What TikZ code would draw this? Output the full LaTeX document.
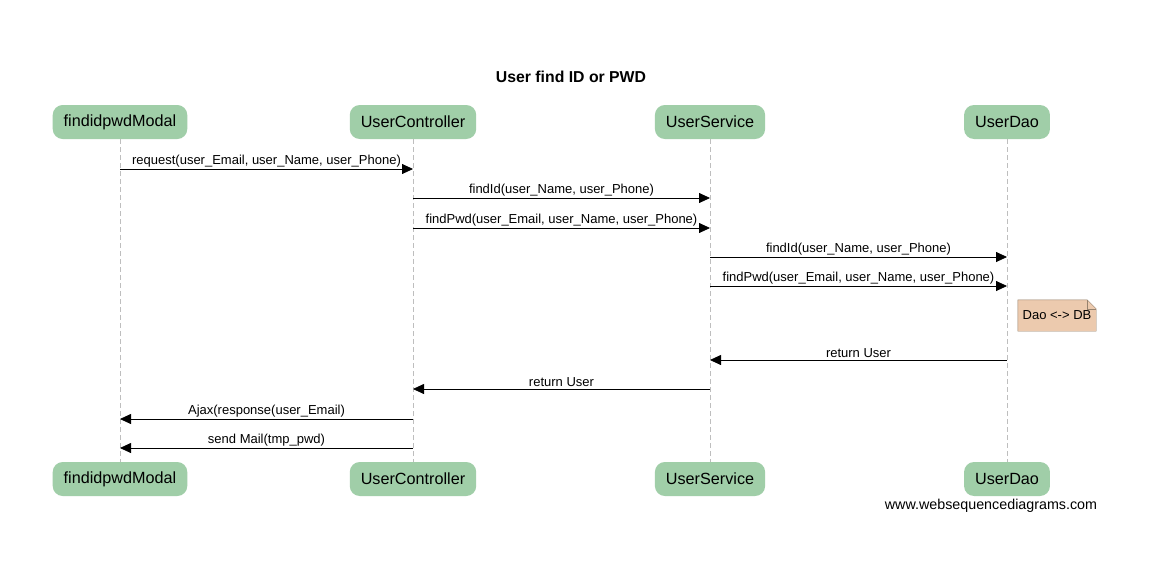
\documentclass[tikz,border=0pt]{standalone}
\usepackage{fontspec}
\setmainfont{Liberation Sans}
\usepackage{tikz}
\usetikzlibrary{arrows.meta,positioning,calc}
\definecolor{actorgreen}{RGB}{160,206,168}
\definecolor{notetan}{RGB}{236,202,174}
\definecolor{notedraw}{RGB}{150,130,110}
\definecolor{lifegray}{RGB}{190,190,190}

\begin{document}
\begin{tikzpicture}[x=1pt,y=-1pt]
  \tikzstyle{actor}=[rectangle,rounded corners=10pt,fill=actorgreen,minimum height=34pt,inner xsep=11pt,font=\fontsize{16.2}{19}\selectfont]
  \tikzstyle{lifeline}=[lifegray,dash pattern=on 5pt off 3pt]
  \tikzstyle{msg}=[-{Triangle[length=11pt,width=10pt]},black,line width=0.8pt]
  \tikzstyle{lbl}=[font=\fontsize{13}{15}\selectfont,anchor=south,inner sep=1pt,yshift=0.5pt]
  \useasboundingbox[fill=white] (0,0) rectangle (1155,562);
  \node[font=\bfseries\fontsize{15.8}{18}\selectfont] (title) at (571,77) {User find ID or PWD};
  % top actors
  \node[actor] (m1) at (120,122) {findidpwdModal};
  \node[actor] (c1) at (413,122) {UserController};
  \node[actor] (s1) at (710,122) {UserService};
  \node[actor] (d1) at (1007,122) {UserDao};
  % bottom actors
  \node[actor] (m2) at (120,479) {findidpwdModal};
  \node[actor] (c2) at (413,479) {UserController};
  \node[actor] (s2) at (710,479) {UserService};
  \node[actor] (d2) at (1007,479) {UserDao};
  \foreach \a in {m,c,s,d}
    \draw[lifeline] (\a1) -- (\a2);
  % messages
  \draw[msg] (m1 |- 0,169) -- node[lbl] {request(user\_Email, user\_Name, user\_Phone)} (c1 |- 0,169);
  \draw[msg] (c1 |- 0,198) -- node[lbl] {findId(user\_Name, user\_Phone)} (s1 |- 0,198);
  \draw[msg] (c1 |- 0,228) -- node[lbl] {findPwd(user\_Email, user\_Name, user\_Phone)} (s1 |- 0,228);
  \draw[msg] (s1 |- 0,257) -- node[lbl] {findId(user\_Name, user\_Phone)} (d1 |- 0,257);
  \draw[msg] (s1 |- 0,286) -- node[lbl] {findPwd(user\_Email, user\_Name, user\_Phone)} (d1 |- 0,286);
  % note
  \node[minimum width=78pt,minimum height=31pt,font=\fontsize{13}{15}\selectfont] (note) at (1057,315.5) {};
  \draw[notedraw,fill=notetan] (note.north west) -- ($(note.north east)+(-9,0)$) -- ($(note.north east)+(0,9)$) -- (note.south east) -- (note.south west) -- cycle;
  \draw[notedraw] ($(note.north east)+(-9,0)$) -- ($(note.north east)+(-9,9)$) -- ($(note.north east)+(0,9)$);
  \node[font=\fontsize{13}{15}\selectfont] (notetext) at (note) {Dao <-> DB};
  \draw[msg] (d1 |- 0,360) -- node[lbl] {return User} (s1 |- 0,360);
  \draw[msg] (s1 |- 0,389) -- node[lbl] {return User} (c1 |- 0,389);
  \draw[msg] (c1 |- 0,419) -- node[lbl] {Ajax(response(user\_Email)} (m1 |- 0,419);
  \draw[msg] (c1 |- 0,448) -- node[lbl] {send Mail(tmp\_pwd)} (m1 |- 0,448);
  \node[font=\fontsize{14.3}{17}\selectfont] (wsd) at (991,506) {www.websequencediagrams.com};
\end{tikzpicture}
\end{document}
